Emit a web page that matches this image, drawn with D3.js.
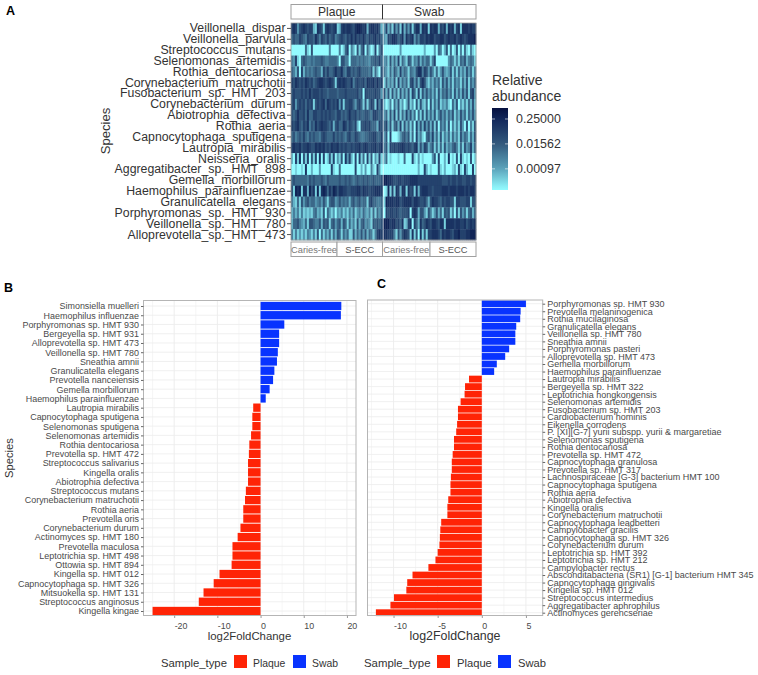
<!DOCTYPE html>
<html>
<head>
<meta charset="utf-8">
<script src="https://cdn.jsdelivr.net/npm/d3@7"></script>
<style>
  body { margin: 0; background: #fff; }
  text { font-family: "Liberation Sans", Arial, sans-serif; }
</style>
</head>
<body>
<div id="chart"></div>
<script>
// panel A - species on the heatmap rows
const heatSpecies = ["Veillonella_dispar","Veillonella_parvula","Streptococcus_mutans","Selenomonas_artemidis","Rothia_dentocariosa","Corynebacterium_matruchotii","Fusobacterium_sp._HMT_203","Corynebacterium_durum","Abiotrophia_defectiva","Rothia_aeria","Capnocytophaga_sputigena","Lautropia_mirabilis","Neisseria_oralis","Aggregatibacter_sp._HMT_898","Gemella_morbillorum","Haemophilus_parainfluenzae","Granulicatella_elegans","Porphyromonas_sp._HMT_930","Veillonella_sp._HMT_780","Alloprevotella_sp._HMT_473"];

// one digit per sample, read by eye: index into abundanceLevels
const abundanceLevels = [0.00009, 0.0003, 0.0007, 0.0016, 0.004, 0.009, 0.022, 0.055, 0.13, 0.3];
const plaqueRows = [
  "7873678767 7218761787 6781278788 7689987827 887862",
  "5655765476 6586476575 6745676576 8686768657 678675",
  "0000000510 6000000004 0000401570 4206157052 017046",
  "4371056544 5455565445 5554066440 5554545443 556575",
  "5426072545 4565527575 5686685477 5656755554 615206",
  "7687676876 7567887678 7617878766 8467667587 786867",
  "6766676768 6777676656 6665666766 6667560766 667663",
  "6736767576 7167678587 6768371667 7536751615 761847",
  "6568667585 5776676767 6657756568 6675655665 477656",
  "7678657684 6586787765 7267558757 6572066767 555276",
  "5645657546 5655467655 5756565467 5576544556 677557",
  "7877867787 6687878676 8778676766 7677867876 778678",
  "2071806170 6170807016 1703160837 2070715071 603171",
  "0010010800 2000300000 7100500000 0070020300 410730",
  "5655555546 5655565465 5555655656 5456556565 565556",
  "6198918829 6819189858 6986887766 7778868776 778887",
  "4215163564 5534536415 6634645452 5645645516 755445",
  "2424141212 1452316053 1303241314 2513425324 151535",
  "2556432516 6544626561 5635626515 2416256343 165656",
  "4141313143 1416051425 1526515351 1625363625 414787"
];
const swabRows = [
  "3725173618 2637168828 7818788276 8287827818 887877",
  "3276887568 3867836477 6878867788 6787786787 678889",
  "0000000030 0000000000 2000030540 2605016040 510410",
  "3416252715 3165143625 3551470000 0035414154 624541",
  "4315264273 5415436884 7636415136 3236151524 263514",
  "1524261725 3516736268 6314253516 3625153415 261535",
  "6261625162 5261751716 3635251625 4635162526 361673",
  "2014052613 0261306162 1506152613 2410526031 415262",
  "3516271615 2736250516 1625261463 5253614263 515363",
  "5726156271 6251507262 7362616053 5160414163 060416",
  "3607000135 6461507241 0563725161 4251524163 541526",
  "4617676778 7676578263 7624615151 6243564151 634725",
  "2501000100 5000710301 0000360700 2080106071 010601",
  "0000000000 0000000200 7201000610 2000120710 720070",
  "9988766776 7778888777 7777777776 6676776776 677677",
  "0191718728 8186718278 8877677778 8878887888 787887",
  "1988878867 8888688766 7526877657 6776617766 677166",
  "0767767656 6670787266 3164136251 6561406163 515625",
  "9997886758 1278075285 6876887688 1888878877 867878",
  "8877741636 8761816081 6177888758 7887688977 788999"
];
const legendTicks = [0.25, 0.01562, 0.00097];

// panel B
const speciesB = ["Simonsiella muelleri","Haemophilus influenzae","Porphyromonas sp. HMT 930","Bergeyella sp. HMT 931","Alloprevotella sp. HMT 473","Veillonella sp. HMT 780","Sneathia amnii","Granulicatella elegans","Prevotella nanceiensis","Gemella morbillorum","Haemophilus parainfluenzae","Lautropia mirabilis","Capnocytophaga sputigena","Selenomonas sputigena","Selenomonas artemidis","Rothia dentocariosa","Prevotella sp. HMT 472","Streptococcus salivarius","Kingella oralis","Abiotrophia defectiva","Streptococcus mutans","Corynebacterium matruchotii","Rothia aeria","Prevotella oris","Corynebacterium durum","Actinomyces sp. HMT 180","Prevotella maculosa","Leptotrichia sp. HMT 498","Ottowia sp. HMT 894","Kingella sp. HMT 012","Capnocytophaga sp. HMT 326","Mitsuokella sp. HMT 131","Streptococcus anginosus","Kingella kingae"];
const foldB = [18.7,18.6,5.5,4.3,4.3,4.0,3.8,3.2,2.9,2.1,1.2,-1.7,-1.9,-1.9,-2.2,-2.6,-2.7,-2.9,-2.9,-2.9,-3.4,-3.6,-4.0,-4.0,-4.65,-5.3,-6.5,-6.5,-6.7,-9.5,-10.85,-13.2,-14.3,-25];

// panel C
const speciesC = ["Porphyromonas sp. HMT 930","Prevotella melaninogenica","Rothia mucilaginosa","Granulicatella elegans","Veillonella sp. HMT 780","Sneathia amnii","Porphyromonas pasteri","Alloprevotella sp. HMT 473","Gemella morbillorum","Haemophilus parainfluenzae","Lautropia mirabilis","Bergeyella sp. HMT 322","Leptotrichia hongkongensis","Selenomonas artemidis","Fusobacterium sp. HMT 203","Cardiobacterium hominis","Eikenella corrodens","P. [XI][G-7] yurii subspp. yurii & margaretiae","Selenomonas sputigena","Rothia dentocariosa","Prevotella sp. HMT 472","Capnocytophaga granulosa","Prevotella sp. HMT 317","Lachnospiraceae [G-3] bacterium HMT 100","Capnocytophaga sputigena","Rothia aeria","Abiotrophia defectiva","Kingella oralis","Corynebacterium matruchotii","Capnocytophaga leadbetteri","Campylobacter gracilis","Capnocytophaga sp. HMT 326","Corynebacterium durum","Leptotrichia sp. HMT 392","Leptotrichia sp. HMT 212","Campylobacter rectus","Absconditabacteria (SR1) [G-1] bacterium HMT 345","Capnocytophaga gingivalis","Kingella sp. HMT 012","Streptococcus intermedius","Aggregatibacter aphrophilus","Actinomyces gerencseriae"];
const foldC = [5.0,4.4,4.35,3.9,3.8,3.8,3.1,2.65,1.7,1.4,-1.45,-1.9,-1.95,-2.4,-2.7,-2.7,-2.8,-2.9,-3.15,-3.15,-3.3,-3.4,-3.4,-3.5,-3.55,-3.55,-3.8,-3.9,-3.9,-4.6,-4.7,-4.75,-4.8,-5.0,-5.25,-6.05,-7.85,-8.45,-8.55,-9.95,-10.35,-12.0];

const RED = "#ff2406", BLUE = "#0833ff", BORDER = "#b5b5b5", GRID = "#ececec", INK = "#4a4a4a";

const svg = d3.select("#chart").append("svg").attr("width", 758).attr("height", 675).style("display", "block");

function label(txt, x, y, size, opts) {
  opts = opts || {};
  const t = svg.append("text").attr("x", x).attr("y", y).attr("font-size", size)
    .attr("fill", opts.fill || "#333").attr("text-anchor", opts.anchor || "start")
    .attr("font-weight", opts.weight || "normal").text(txt);
  if (opts.rotate) t.attr("transform", "rotate(-90," + x + "," + y + ")");
  return t;
}

// panel letters
label("A", 6, 15, 12.5, {fill: "#000", weight: "bold"});
label("B", 4, 292, 12.5, {fill: "#000", weight: "bold"});
label("C", 377, 288, 12.5, {fill: "#000", weight: "bold"});

// ---- heatmap ----
const hm = {left: 291, right: 476, top: 23, bottom: 240, mid: 383};
const color = d3.scaleLog()
  .domain([0.0001, 0.001, 0.01562, 0.25, 0.9])
  .range(["#93fbff", "#5ba3ba", "#33597d", "#12275a", "#050f3d"])
  .clamp(true);

const yHeat = d3.scaleBand().domain(heatSpecies).range([hm.top, hm.bottom]);

function drawFacet(rows, x0, x1) {
  const n = rows[0].replace(/ /g, "").length;
  const x = d3.scaleBand().domain(d3.range(n)).range([x0, x1]);
  rows.forEach(function(r, i) {
    const vals = r.replace(/ /g, "").split("").map(function(c) { return abundanceLevels[+c]; });
    svg.append("g").selectAll("rect").data(vals).enter().append("rect")
      .attr("x", function(d, j) { return x(j); })
      .attr("y", yHeat(heatSpecies[i]))
      .attr("width", x.bandwidth() + 0.3)
      .attr("height", yHeat.bandwidth() + 0.3)
      .attr("fill", function(d) { return color(d); });
  });
}
drawFacet(plaqueRows, hm.left, hm.mid - 0.5);
drawFacet(swabRows, hm.mid + 0.5, hm.right);

svg.append("rect").attr("x", hm.left).attr("y", hm.top).attr("width", hm.right - hm.left)
  .attr("height", hm.bottom - hm.top).attr("fill", "none").attr("stroke", "#9a9a9a").attr("stroke-width", 0.8);

const gHeat = svg.append("g").attr("transform", "translate(" + hm.left + ",0)")
  .call(d3.axisLeft(yHeat).tickSize(4).tickPadding(1.5));
gHeat.select(".domain").remove();
gHeat.selectAll("line").attr("stroke", "#555");
gHeat.selectAll("text").attr("font-size", 12.3).attr("fill", "#333")
  .attr("font-family", '"Liberation Sans", Arial, sans-serif');

label("Species", 110, 131, 13.1, {anchor: "middle", rotate: true});

// strips
function strip(x0, x1, y0, y1, txt, size, fill) {
  svg.append("rect").attr("x", x0).attr("y", y0).attr("width", x1 - x0).attr("height", y1 - y0)
    .attr("fill", "#fff").attr("stroke", "#a0a0a0").attr("stroke-width", 1);
  label(txt, (x0 + x1) / 2, (y0 + y1) / 2 + size * 0.36, size, {anchor: "middle", fill: fill});
}
strip(hm.left, hm.mid - 0.5, 4.5, 19, "Plaque", 12.1, "#333");
strip(hm.mid - 0.5, hm.right, 4.5, 19, "Swab", 12.1, "#333");
svg.append("line").attr("x1", hm.mid - 0.5).attr("x2", hm.mid - 0.5).attr("y1", 4.5).attr("y2", 19)
  .attr("stroke", "#333").attr("stroke-width", 1);
strip(hm.left, 337, 242, 256.5, "Caries-free", 9.3, "#777");
strip(337, hm.mid - 0.5, 242, 256.5, "S-ECC", 9.3, "#555");
strip(hm.mid - 0.5, 430, 242, 256.5, "Caries-free", 9.3, "#777");
strip(430, hm.right, 242, 256.5, "S-ECC", 9.3, "#555");

// colourbar
label("Relative", 492, 85, 14, {fill: "#333"});
label("abundance", 492, 101, 14, {fill: "#333"});
const barY = d3.scaleLog().base(2).domain([0.000092, 0.85]).range([190, 108]);
const grad = svg.append("defs").append("linearGradient").attr("id", "ramp")
  .attr("x1", 0).attr("x2", 0).attr("y1", 1).attr("y2", 0);
d3.range(0, 1.001, 0.05).forEach(function(f) {
  grad.append("stop").attr("offset", f).attr("stop-color", color(barY.invert(190 - 82 * f)));
});
svg.append("rect").attr("x", 492).attr("y", 108).attr("width", 16).attr("height", 82).attr("fill", "url(#ramp)");
legendTicks.forEach(function(v) {
  const y = barY(v);
  svg.append("line").attr("x1", 492).attr("x2", 495).attr("y1", y).attr("y2", y).attr("stroke", "#fff").attr("stroke-opacity", 0.6);
  svg.append("line").attr("x1", 505).attr("x2", 508).attr("y1", y).attr("y2", y).attr("stroke", "#fff").attr("stroke-opacity", 0.6);
  label(d3.format(".5f")(v), 516, y + 4.3, 12.4, {fill: "#333"});
});

// ---- fold change panels ----
function foldPanel(cfg) {
  const g = svg.append("g");
  const x = d3.scaleLinear().domain(cfg.domain).range([cfg.left, cfg.right]);
  const y = d3.scalePoint().domain(cfg.species).range([cfg.firstY, cfg.lastY]);
  const bh = y.step() * 0.9;

  // grid
  g.selectAll(".gx").data(cfg.grid).enter().append("line")
    .attr("x1", function(d) { return x(d); }).attr("x2", function(d) { return x(d); })
    .attr("y1", cfg.top).attr("y2", cfg.bottom)
    .attr("stroke", GRID).attr("stroke-width", function(d) { return cfg.ticks.indexOf(d) >= 0 ? 0.9 : 0.5; });
  g.selectAll(".gy").data(cfg.species).enter().append("line")
    .attr("x1", cfg.left).attr("x2", cfg.right)
    .attr("y1", function(d) { return y(d); }).attr("y2", function(d) { return y(d); })
    .attr("stroke", GRID).attr("stroke-width", 0.8);

  // bars
  g.selectAll(".bar").data(cfg.values).enter().append("rect")
    .attr("x", function(d) { return Math.min(x(0), x(d)); })
    .attr("y", function(d, i) { return y(cfg.species[i]) - bh / 2; })
    .attr("width", function(d) { return Math.abs(x(d) - x(0)); })
    .attr("height", bh)
    .attr("fill", function(d) { return d < 0 ? RED : BLUE; });

  g.append("rect").attr("x", cfg.left).attr("y", cfg.top)
    .attr("width", cfg.right - cfg.left).attr("height", cfg.bottom - cfg.top)
    .attr("fill", "none").attr("stroke", BORDER).attr("stroke-width", 1);

  // x axis, labels start at the tick as in the original
  const ax = g.append("g").attr("transform", "translate(0," + cfg.bottom + ")")
    .call(d3.axisBottom(x).tickValues(cfg.ticks).tickSize(2.5).tickPadding(4.5).tickFormat(d3.format("d")));
  ax.select(".domain").remove();
  ax.selectAll("line").attr("stroke", "#999");
  ax.selectAll("text").attr("text-anchor", "start").attr("font-size", 8.9).attr("fill", INK)
    .attr("font-family", '"Liberation Sans", Arial, sans-serif')
    .text(function(d) { return d; });

  // species labels
  const axisFn = cfg.side === "left" ? d3.axisLeft(y) : d3.axisRight(y);
  const ay = g.append("g").attr("transform", "translate(" + (cfg.side === "left" ? cfg.left : cfg.right) + ",0)")
    .call(axisFn.tickSize(2.5).tickPadding(2));
  ay.select(".domain").remove();
  ay.selectAll("line").attr("stroke", "#666");
  ay.selectAll("text").attr("font-size", cfg.labelSize).attr("fill", INK)
    .attr("font-family", '"Liberation Sans", Arial, sans-serif');

  label("log2FoldChange", cfg.titleX, 640, cfg.titleSize, {anchor: "middle", fill: "#333"});

  // legend
  const L = cfg.legend;
  label("Sample_type", L.x, 666.5, L.size, {fill: "#333"});
  svg.append("rect").attr("x", L.red).attr("y", 655).attr("width", 13).attr("height", 13).attr("fill", RED);
  label("Plaque", L.red + L.gap, 666.5, L.itemSize, {fill: "#333"});
  svg.append("rect").attr("x", L.blue).attr("y", 655).attr("width", 13).attr("height", 13).attr("fill", BLUE);
  label("Swab", L.blue + L.gap, 666.5, L.itemSize, {fill: "#333"});
}

foldPanel({
  species: speciesB, values: foldB,
  domain: [-27.1, 22.1], left: 143.5, right: 356, top: 300.5, bottom: 615.5,
  firstY: 306, lastY: 611,
  ticks: [-20, -10, 0, 10, 20], grid: [-25, -20, -15, -10, -5, 0, 5, 10, 15, 20],
  side: "left", labelSize: 8.95, titleX: 249.5, titleSize: 11.4,
  legend: {x: 161, red: 234, blue: 293, gap: 19, size: 11.3, itemSize: 10.4}
});
label("Species", 13, 458, 11.2, {anchor: "middle", rotate: true});

foldPanel({
  species: speciesC, values: foldC,
  domain: [-12.95, 6.9], left: 367.5, right: 542.7, top: 300, bottom: 615.5,
  firstY: 303.7, lastY: 612.7,
  ticks: [-10, -5, 0, 5], grid: [-12.5, -10, -7.5, -5, -2.5, 0, 2.5, 5],
  side: "right", labelSize: 9.0, titleX: 455, titleSize: 12.4,
  legend: {x: 364, red: 437, blue: 498, gap: 20, size: 11.4, itemSize: 11.2}
});
</script>
</body>
</html>
